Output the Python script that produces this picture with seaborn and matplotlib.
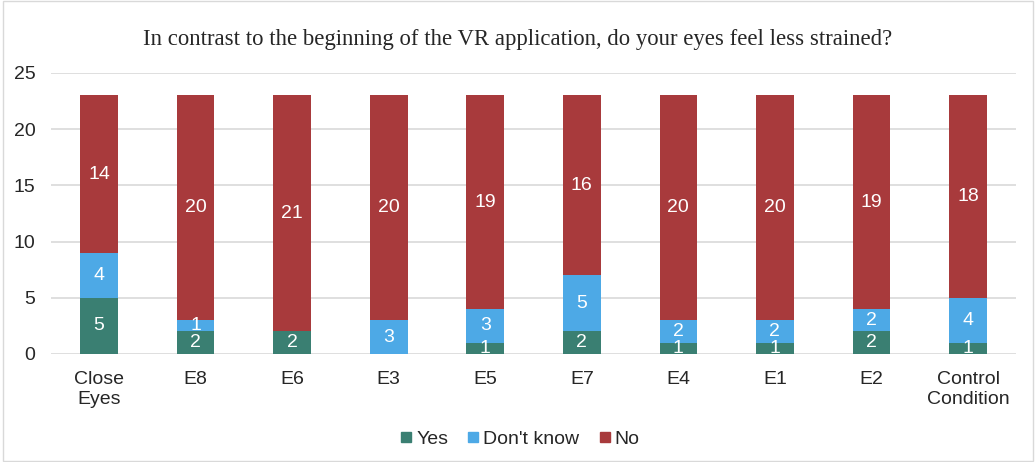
import numpy as np
import pandas as pd
import seaborn as sns
import matplotlib.pyplot as plt
from matplotlib.patches import Rectangle

# %%
# Survey answers per condition
conditions = ["Close\nEyes", "E8", "E6", "E3", "E5", "E7", "E4", "E1", "E2", "Control\nCondition"]
yes = [5, 2, 2, 0, 1, 2, 1, 1, 2, 1]
dont_know = [4, 1, 0, 3, 3, 5, 2, 2, 2, 4]
no = [14, 20, 21, 20, 19, 16, 20, 20, 19, 18]

series_names = ["Yes", "Don't know", "No"]
series_colors = ["#3A7F72", "#4DA9E6", "#A83A3C"]

# %%
sns.set_style("white")
plt.rcParams['font.family'] = ['Liberation Sans', 'DejaVu Sans']

df = pd.DataFrame({"condition": conditions, "Yes": yes, "Don't know": dont_know, "No": no})
df["c1"] = df["Yes"]
df["c2"] = df["Yes"] + df["Don't know"]
df["c3"] = df["c2"] + df["No"]

fig = plt.figure(figsize=(10.36, 4.62), dpi=100)
ax = fig.add_axes([0.049, 0.234, 0.932, 0.608])

# stack by drawing cumulative totals from top down
for col, color in zip(["c3", "c2", "c1"], series_colors[::-1]):
    sns.barplot(data=df, x="condition", y=col, color=color, width=0.39,
                saturation=1, ax=ax, linewidth=0, zorder=3)

# segment labels
for i, row in df.iterrows():
    base = 0
    for name in series_names:
        v = row[name]
        if v > 0:
            ax.text(i, base + v / 2, str(v), ha="center", va="center",
                    color="white", fontsize=14, zorder=4)
        base += v

ax.set_ylim(0, 25)
ax.set_xlim(-0.5, len(conditions) - 0.5)
ax.set_yticks(range(0, 26, 5))
ax.yaxis.grid(True, color="#D9D9D9", linewidth=1.2, zorder=0)
ax.set_axisbelow(True)
sns.despine(ax=ax, left=True, bottom=True)
ax.tick_params(axis="both", length=0, labelsize=14)
ax.tick_params(axis="x", pad=12)
ax.tick_params(axis="y", pad=11)
for lbl in ax.get_xticklabels():
    lbl.set_linespacing(1.25)
ax.set_xlabel("")
ax.set_ylabel("")

fig.suptitle("In contrast to the beginning of the VR application, do your eyes feel less strained?",
             y=0.937, fontsize=16.4, family=["Liberation Serif", "DejaVu Serif"])

handles = [plt.Line2D([], [], marker="s", linestyle="", color=c, markersize=7)
           for c in series_colors]
fig.legend(handles, series_names, loc="center", bbox_to_anchor=(0.5, 0.05), ncol=3,
           frameon=False, fontsize=14, handletextpad=0.0, columnspacing=0.8,
           handlelength=1.0)

fig.add_artist(Rectangle((0.003, 0.003), 0.994, 0.994, transform=fig.transFigure,
                         fill=False, edgecolor="#D9D9D9", linewidth=1))

fig.savefig("out.png", dpi=100)
